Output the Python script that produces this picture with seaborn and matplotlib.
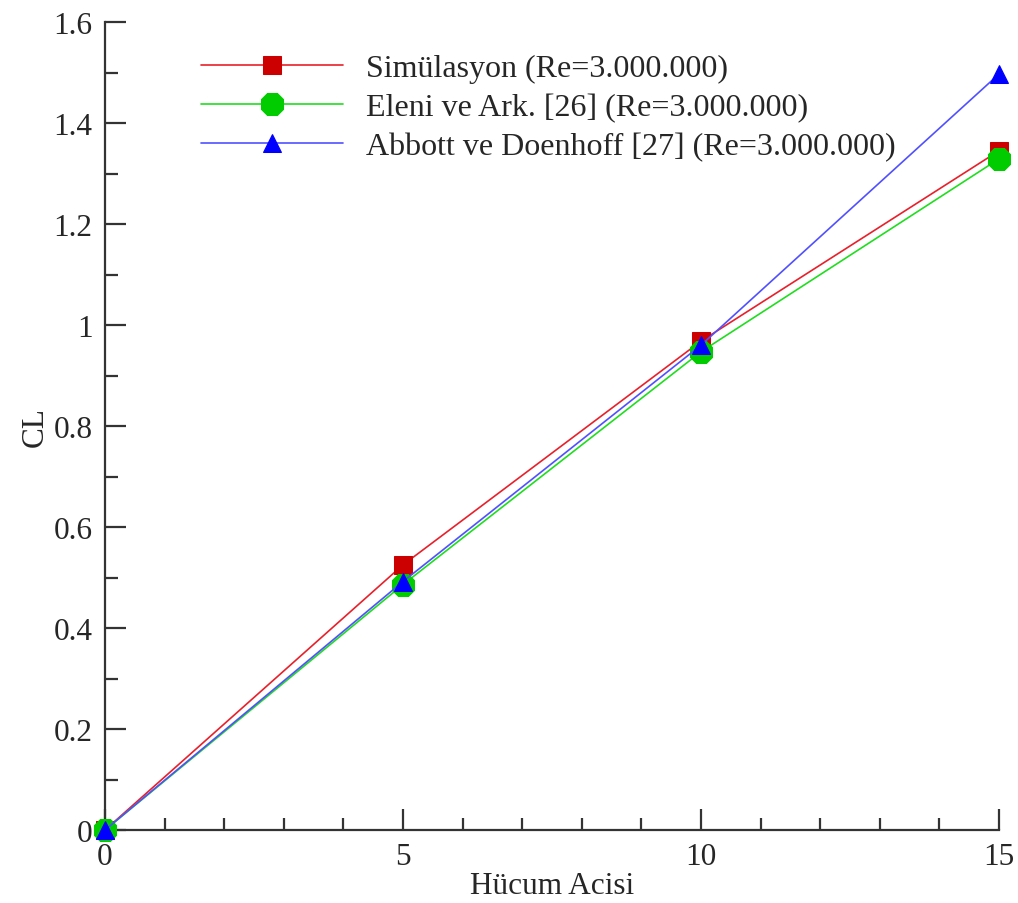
import matplotlib
matplotlib.use("Agg")
import matplotlib.pyplot as plt
import seaborn as sns
import pandas as pd
from matplotlib.ticker import MultipleLocator, FuncFormatter

angles = [0, 5, 10, 15]
sim_cl = [0.0, 0.525, 0.968, 1.345]
eleni_cl = [0.0, 0.486, 0.947, 1.329]
abbott_cl = [0.0, 0.492, 0.960, 1.497]

labels = ["Simülasyon (Re=3.000.000)",
          "Eleni ve Ark. [26] (Re=3.000.000)",
          "Abbott ve Doenhoff [27] (Re=3.000.000)"]

sns.set_style("white")
plt.rcParams['font.family'] = ['Liberation Serif', 'DejaVu Serif']

fig = plt.figure(figsize=(10.18, 9.04), dpi=100)
ax = fig.add_axes([105/1018, 73/904, (999-105)/1018, (831-23)/904])

styles = [
    dict(color="#e8202a", marker="s", markerfacecolor="#cc0000", markeredgecolor="#cc0000", markersize=13),
    dict(color="#20dd20", marker="8", markerfacecolor="#00cc00", markeredgecolor="#00cc00", markersize=17),
    dict(color="#5050ff", marker="^", markerfacecolor="#0000ff", markeredgecolor="#0000ff", markersize=13),
]
for vals, lab, st in zip([sim_cl, eleni_cl, abbott_cl], labels, styles):
    df = pd.DataFrame({"x": angles, "y": vals})
    sns.lineplot(data=df, x="x", y="y", ax=ax, label=lab, linewidth=1.2, clip_on=False, zorder=3, **st)

ax.set_xlim(0, 15)
ax.set_ylim(0, 1.6)
ax.xaxis.set_major_locator(MultipleLocator(5))
ax.xaxis.set_minor_locator(MultipleLocator(1))
ax.yaxis.set_major_locator(MultipleLocator(0.2))
ax.yaxis.set_minor_locator(MultipleLocator(0.1))
ax.yaxis.set_major_formatter(FuncFormatter(lambda v, p: f"{v:.1f}".rstrip('0').rstrip('.') if v != 0 else "0"))

for s in ["top", "right"]:
    ax.spines[s].set_visible(False)
for s in ["left", "bottom"]:
    ax.spines[s].set_color("#333333")
    ax.spines[s].set_linewidth(1.6)

ax.tick_params(axis="x", which="both", bottom=True, top=False)
ax.tick_params(axis="y", which="both", left=True, right=False)
ax.tick_params(which="major", direction="in", length=15, width=1.6, color="#333333", labelsize=22.5, pad=9)
ax.tick_params(which="minor", direction="in", length=9, width=1.6, color="#333333")

ax.set_xlabel("Hücum Acisi", fontsize=22.5, labelpad=0)
ax.set_ylabel("CL", fontsize=22.5, labelpad=3)

leg = ax.legend(loc="upper left", bbox_to_anchor=(201/1018, 1 - 55/904), bbox_transform=fig.transFigure,
                frameon=False, fontsize=23, handlelength=4.45, handletextpad=0.7, labelspacing=0.3,
                borderpad=0, borderaxespad=0)

fig.savefig("out.png", dpi=100)
